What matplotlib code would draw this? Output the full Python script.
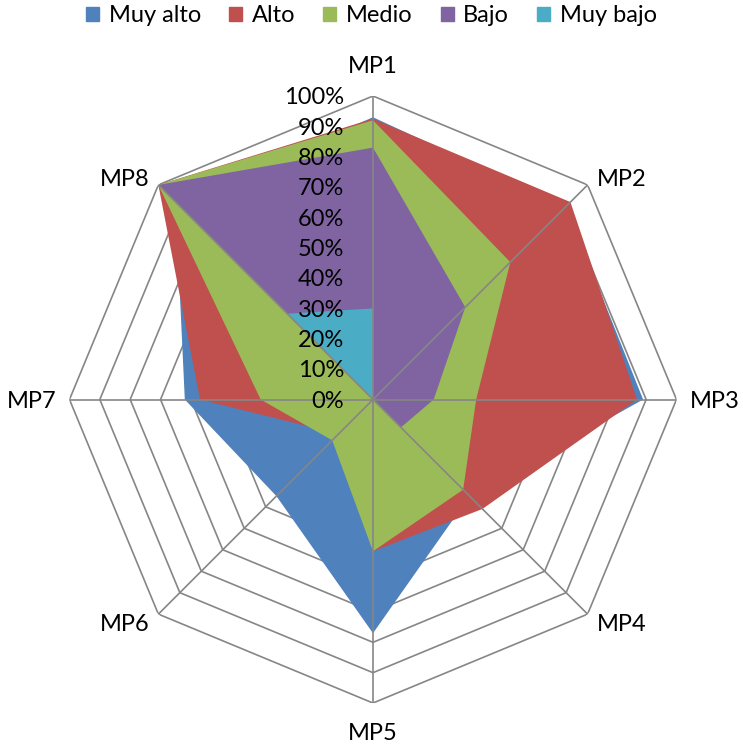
import numpy as np
import matplotlib.pyplot as plt
from matplotlib.patches import Patch

plt.rcParams['font.family'] = ['Lato', 'DejaVu Sans']

categories = ['MP1', 'MP2', 'MP3', 'MP4', 'MP5', 'MP6', 'MP7', 'MP8']
series_names = ['Muy alto', 'Alto', 'Medio', 'Bajo', 'Muy bajo']
muy_alto = [93, 90, 89, 45, 77, 45, 62, 92]
alto = [92.5, 92, 87, 51, 50, 16, 57, 100]
medio = [92, 64, 34, 42, 50, 19, 37, 100]
bajo = [83, 43, 20, 13, 0, 0, 0, 100]
muy_bajo = [30, 0, 0, 0, 0, 0, 0, 40]
ticks = [0, 10, 20, 30, 40, 50, 60, 70, 80, 90, 100]

colors = ['#4F81BD', '#C0504D', '#9BBB59', '#8064A2', '#4BACC6']
grid_c = '#868686'

n = len(categories)
theta = np.arange(n) * 2 * np.pi / n
theta_c = np.append(theta, theta[0])

fig = plt.figure(figsize=(7.43, 7.46), dpi=100)
ax = fig.add_axes([0.0935, 0.0576, 0.817, 0.8137], projection='polar')
ax.set_theta_offset(np.pi / 2)
ax.set_theta_direction(-1)
ax.set_ylim(0, 100)
ax.grid(False)
ax.spines['polar'].set_visible(False)
ax.set_xticks([])
ax.set_yticks([])
ax.patch.set_alpha(0)

# rings (under the fills)
for t in ticks[1:]:
    ax.plot(theta_c, [t] * (n + 1), color=grid_c, lw=1.2, zorder=1)

for i, vals in enumerate([muy_alto, alto, medio, bajo, muy_bajo]):
    v = np.append(vals, vals[0])
    ax.fill(theta_c, v, color=colors[i], lw=0, zorder=2 + i)

# spokes on top
for th in theta:
    ax.plot([th, th], [0, 100], color=grid_c, lw=1.2, zorder=10)

for t in ticks:
    ax.annotate(f'{t}%', xy=(0, t), xytext=(-29, -8.3), textcoords='offset pixels',
                ha='right', va='baseline', fontsize=17, zorder=11)

label_off = [(0, 22.7), (34, -1), (38, -8.5), (34, -16.7),
             (0, -36.7), (-34, -16.7), (-37.5, -8.5), (-34, -1)]
for th, lab, off in zip(theta, categories, label_off):
    ax.annotate(lab, xy=(th, 100), xytext=off, textcoords='offset pixels',
                ha='center', va='baseline', fontsize=17, annotation_clip=False)

handles = [Patch(color=c) for c in colors]
fig.legend(handles, series_names, loc='center', bbox_to_anchor=(0.5, 1 - 16 / 746),
           ncol=5, frameon=False, fontsize=17, handlelength=0.55, handleheight=0.55,
           handletextpad=0.4, columnspacing=1.2, borderaxespad=0)

fig.savefig('out.png', dpi=100)
